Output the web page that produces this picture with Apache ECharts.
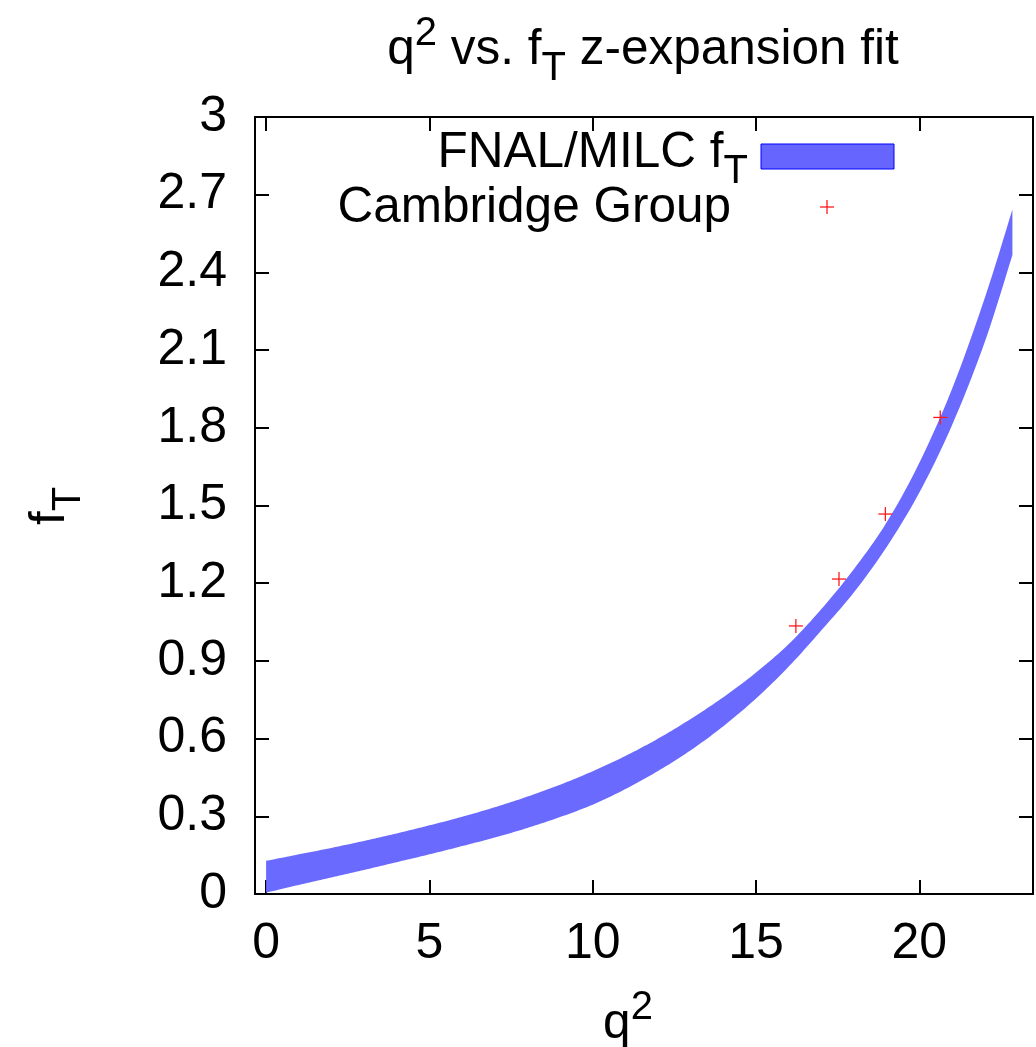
<!DOCTYPE html>
<html>
<head>
<meta charset="utf-8">
<script src="https://cdn.jsdelivr.net/npm/echarts@6/dist/echarts.min.js"></script>
<style>
  html, body { margin: 0; padding: 0; background: #fff; }
  #chart { width: 1036px; height: 1047px; }
</style>
</head>
<body>
<div id="chart"></div>
<script>
// z-expansion fit band for f_T (lower / upper edge) sampled along q^2
const q2Grid  = [0, 1, 2, 3, 4, 5, 6, 7, 8, 9, 10, 11, 12, 13, 14, 15, 16, 17, 18, 19, 20, 21, 22, 22.85];
const fTUpper = [0.128, 0.153, 0.178, 0.205, 0.234, 0.265, 0.298, 0.335, 0.376, 0.422, 0.474, 0.533, 0.600, 0.676, 0.760, 0.855, 0.965, 1.100, 1.255, 1.435, 1.665, 1.950, 2.300, 2.643];
const fTLower = [0.005, 0.035, 0.064, 0.093, 0.123, 0.153, 0.185, 0.218, 0.255, 0.297, 0.345, 0.405, 0.475, 0.555, 0.648, 0.755, 0.878, 1.018, 1.165, 1.340, 1.550, 1.810, 2.130, 2.467];

// Cambridge Group points
const cambridgeQ2 = [16.22, 17.54, 18.96, 20.64];
const cambridgeFT = [1.035, 1.216, 1.467, 1.840];

// Axis ticks
const xTicks = [0, 5, 10, 15, 20];
const yTicks = [0, 0.3, 0.6, 0.9, 1.2, 1.5, 1.8, 2.1, 2.4, 2.7, 3];
const yTickLabels = ['0', '0.3', '0.6', '0.9', '1.2', '1.5', '1.8', '2.1', '2.4', '2.7', '3'];

const FONT = 'Liberation Sans, Arial, Helvetica, sans-serif';
const BAND_FILL = '#6a6aff';
const CROSS_RED = '#ff1a1a';

const richBase = {
  m:   { fontSize: 49.5, fontFamily: FONT, fill: '#000', lineHeight: 66, height: 66 },
  sup: { fontSize: 40, fontFamily: FONT, fill: '#000', lineHeight: 34, height: 34, verticalAlign: 'top' },
  sub: { fontSize: 40, fontFamily: FONT, fill: '#000', lineHeight: 28, height: 28, verticalAlign: 'bottom' }
};

function richText(x, y, text, align, extra) {
  return Object.assign({
    type: 'text',
    style: {
      x: x, y: y, text: text, rich: richBase,
      textAlign: align, textVerticalAlign: 'middle',
      font: '49.5px ' + FONT, fill: '#000'
    },
    z: 10
  }, extra || {});
}

// Smooth a pixel-space polyline with a Catmull-Rom curve (rendering only)
function smoothPixels(pts, steps) {
  const out = [];
  const n = pts.length;
  for (let i = 0; i < n - 1; i++) {
    const p0 = pts[Math.max(i - 1, 0)], p1 = pts[i], p2 = pts[i + 1], p3 = pts[Math.min(i + 2, n - 1)];
    for (let s = 0; s < steps; s++) {
      const t = s / steps, t2 = t * t, t3 = t2 * t;
      const f = function (a, b, c, d) {
        return 0.5 * ((2 * b) + (-a + c) * t + (2 * a - 5 * b + 4 * c - d) * t2 + (-a + 3 * b - 3 * c + d) * t3);
      };
      out.push([f(p0[0], p1[0], p2[0], p3[0]), f(p0[1], p1[1], p2[1], p3[1])]);
    }
  }
  out.push(pts[n - 1]);
  return out;
}

const axisLineStyle = { color: '#000', width: 2 };
const tickStyle = { color: '#000', width: 2 };

const chart = echarts.init(document.getElementById('chart'), null, { renderer: 'canvas' });

chart.setOption({
  backgroundColor: '#fff',
  animation: false,
  grid: { left: 255, right: 3, top: 117, bottom: 153, containLabel: false },
  xAxis: [
    {
      type: 'value', position: 'bottom', min: -0.34, max: 23.48,
      axisLine: { show: true, onZero: false, lineStyle: axisLineStyle },
      axisTick: { show: true, inside: true, length: 14, lineStyle: tickStyle, customValues: xTicks },
      axisLabel: { show: true, margin: 25, fontSize: 50, fontFamily: FONT, color: '#000', customValues: xTicks },
      splitLine: { show: false }
    },
    {
      type: 'value', position: 'top', min: -0.34, max: 23.48,
      axisLine: { show: true, onZero: false, lineStyle: axisLineStyle },
      axisTick: { show: true, inside: true, length: 14, lineStyle: tickStyle, customValues: xTicks },
      axisLabel: { show: false },
      splitLine: { show: false }
    }
  ],
  yAxis: [
    {
      type: 'value', position: 'left', min: 0, max: 3,
      axisLine: { show: true, onZero: false, lineStyle: axisLineStyle },
      axisTick: { show: true, inside: true, length: 14, lineStyle: tickStyle, customValues: yTicks },
      axisLabel: {
        show: true, margin: 28, fontSize: 50, fontFamily: FONT, color: '#000',
        customValues: yTicks,
        formatter: function (v) {
          const i = yTicks.findIndex(function (t) { return Math.abs(t - v) < 1e-9; });
          return i >= 0 ? yTickLabels[i] : '';
        }
      },
      splitLine: { show: false }
    },
    {
      type: 'value', position: 'right', min: 0, max: 3,
      axisLine: { show: true, onZero: false, lineStyle: axisLineStyle },
      axisTick: { show: true, inside: true, length: 14, lineStyle: tickStyle, customValues: yTicks },
      axisLabel: { show: false },
      splitLine: { show: false }
    }
  ],
  series: [
    {
      name: 'FNAL/MILC f_T',
      type: 'custom',
      xAxisIndex: 0, yAxisIndex: 0,
      data: q2Grid.map(function (q, i) { return [q, fTLower[i], fTUpper[i]]; }),
      encode: { x: 0, y: [1, 2] },
      renderItem: function (params, api) {
        if (params.dataIndex !== 0) return;
        const up = [], lo = [];
        for (let i = 0; i < q2Grid.length; i++) {
          up.push(api.coord([q2Grid[i], fTUpper[i]]));
          lo.push(api.coord([q2Grid[i], fTLower[i]]));
        }
        const pts = smoothPixels(up, 12).concat(smoothPixels(lo, 12).reverse());
        return { type: 'polygon', shape: { points: pts }, style: { fill: BAND_FILL, stroke: null } };
      },
      z: 2
    },
    {
      name: 'Cambridge Group',
      type: 'custom',
      xAxisIndex: 0, yAxisIndex: 0,
      data: cambridgeQ2.map(function (q, i) { return [q, cambridgeFT[i]]; }),
      renderItem: function (params, api) {
        const p = api.coord([api.value(0), api.value(1)]);
        const h = 7;
        return {
          type: 'group',
          children: [
            { type: 'line', shape: { x1: p[0] - h, y1: p[1], x2: p[0] + h, y2: p[1] }, style: { stroke: CROSS_RED, lineWidth: 1.3 } },
            { type: 'line', shape: { x1: p[0], y1: p[1] - h, x2: p[0], y2: p[1] + h }, style: { stroke: CROSS_RED, lineWidth: 1.3 } }
          ]
        };
      },
      z: 3
    }
  ],
  graphic: [
    // title
    richText(643, 50, '{m|q}{sup|2}{m| vs. f}{sub|T}{m| z-expansion fit}', 'center'),
    // x axis name
    richText(628, 1024, '{m|q}{sup|2}', 'center'),
    // y axis name (rotated)
    Object.assign(richText(0, 0, '{m|f}{sub|T}', 'center'), { x: 50, y: 506, rotation: Math.PI / 2 }),
    // key
    richText(748, 153, '{m|FNAL/MILC f}{sub|T}', 'right'),
    richText(731, 208, '{m|Cambridge Group}', 'right'),
    {
      type: 'rect', z: 10,
      shape: { x: 761, y: 144, width: 133, height: 25 },
      style: { fill: '#6666ff', stroke: '#0000ff', lineWidth: 1 }
    },
    { type: 'line', z: 10, shape: { x1: 820, y1: 207, x2: 834, y2: 207 }, style: { stroke: CROSS_RED, lineWidth: 1.3 } },
    { type: 'line', z: 10, shape: { x1: 827, y1: 200, x2: 827, y2: 214 }, style: { stroke: CROSS_RED, lineWidth: 1.3 } }
  ]
});
</script>
</body>
</html>
